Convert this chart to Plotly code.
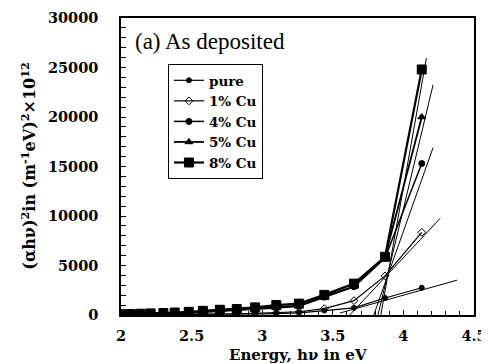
import plotly.graph_objects as go

# Photon energy (eV) of the measured points
energy = [2.00, 2.07, 2.14, 2.21, 2.30, 2.38, 2.48, 2.58, 2.70, 2.82,
          2.95, 3.10, 3.26, 3.44, 3.65, 3.87, 4.13]

# (alpha h nu)^2 values, x10^12 (m^-1 eV)^2
pure = [10, 12, 15, 20, 25, 30, 40, 50, 60, 80, 100, 140, 220, 450, 720, 1720, 2750]
cu1 = [15, 20, 25, 30, 35, 45, 55, 75, 95, 125, 165, 230, 330, 640, 1450, 3950, 8350]
cu4 = [50, 60, 80, 100, 130, 160, 210, 280, 360, 450, 560, 700, 880, 1800, 2850, 5750, 15300]
cu5 = [60, 80, 100, 120, 150, 190, 250, 330, 430, 520, 650, 800, 950, 1850, 2900, 5850, 20000]
cu8 = [80, 100, 130, 160, 200, 250, 320, 420, 530, 600, 770, 1000, 1150, 2030, 3170, 5880, 24800]

# Linear extrapolation (Tauc) lines: end points
fit_pure_x = [3.55, 4.38]
fit_pure_y = [200, 3520]
fit_cu1_x = [3.62, 4.26]
fit_cu1_y = [0, 9760]
fit_cu4_x = [3.79, 4.21]
fit_cu4_y = [0, 16900]
fit_cu5_x = [3.82, 4.21]
fit_cu5_y = [0, 23240]
fit_cu8_x = [3.84, 4.163]
fit_cu8_y = [0, 25950]

names = ["pure", "1% Cu", "4% Cu", "5% Cu", "8% Cu"]
series = [pure, cu1, cu4, cu5, cu8]
symbols = ["circle", "diamond-open", "circle", "triangle-up", "square"]
msizes = [5, 6, 6, 7, 9]
lwidths = [1.2, 1.2, 1.5, 1.8, 2.2]

fig = go.Figure()

fits = [(fit_pure_x, fit_pure_y), (fit_cu1_x, fit_cu1_y), (fit_cu4_x, fit_cu4_y),
        (fit_cu5_x, fit_cu5_y), (fit_cu8_x, fit_cu8_y)]
for fx, fy in fits:
    fig.add_trace(go.Scatter(x=fx, y=fy, mode="lines", showlegend=False,
                             line=dict(color="black", width=1), hoverinfo="skip"))

for n, s, sym, ms, lw in zip(names, series, symbols, msizes, lwidths):
    fig.add_trace(go.Scatter(
        x=energy, y=s, mode="lines+markers", name=n,
        line=dict(color="black", width=lw),
        marker=dict(symbol=sym, size=ms, color="black",
                    line=dict(color="black", width=1)),
    ))

serif = "Liberation Serif, Times New Roman, serif"
bold_serif = "DejaVu Serif, serif"

# page body has an 8px margin, so the figure is 8px smaller and offset
fig.update_layout(
    width=481, height=356,
    margin=dict(l=113, r=15, t=10, b=48.5, autoexpand=False),
    paper_bgcolor="white", plot_bgcolor="white",
    font=dict(family=serif, color="black"),
    legend=dict(
        x=0.133, y=0.845, xanchor="left", yanchor="top",
        bgcolor="white", bordercolor="black", borderwidth=1,
        font=dict(family=bold_serif, size=13.5, color="black", weight="bold"),
        tracegroupgap=0, itemwidth=30,
    ),
    showlegend=True,
)

fig.update_xaxes(
    range=[2, 4.5], dtick=0.5, tick0=2, automargin=False,
    ticks="inside", ticklen=5, tickwidth=1, tickcolor="black",
    minor=dict(dtick=0.1, ticks="inside", ticklen=4, tickcolor="black"),
    showline=True, linecolor="black", linewidth=1.5, mirror=True,
    showgrid=False, zeroline=False,
    tickfont=dict(family=bold_serif, size=14.5, color="black", weight="bold"),
    ticklabelstandoff=7,
)
fig.update_yaxes(
    range=[0, 30000], dtick=5000, tick0=0, tickformat="d", automargin=False,
    ticks="inside", ticklen=5, tickwidth=1, tickcolor="black",
    minor=dict(dtick=1000, ticks="inside", ticklen=5, tickcolor="black"),
    showline=True, linecolor="black", linewidth=1.5, mirror=True,
    showgrid=False, zeroline=False,
    tickfont=dict(family=bold_serif, size=14.5, color="black", weight="bold"),
    ticklabelstandoff=18,
)

fig.add_annotation(
    text="(a) As deposited", xref="paper", yref="paper",
    x=0.035, y=0.92, xanchor="left", yanchor="middle", showarrow=False,
    font=dict(family=serif, size=23, color="black"),
)
fig.add_annotation(
    text="(αhν)<sup>2</sup>in (m<sup>-1</sup>eV)<sup>2</sup>×10<sup>12</sup>",
    xref="paper", yref="paper", x=-0.263, y=0.5, textangle=-90,
    xanchor="center", yanchor="middle", showarrow=False,
    font=dict(family=bold_serif, size=16, color="black", weight="bold"),
)
fig.add_annotation(
    text="Energy, hν in eV", xref="paper", yref="paper",
    x=0.5, y=-0.134, xanchor="center", yanchor="middle", showarrow=False,
    font=dict(family=bold_serif, size=15, color="black", weight="bold"),
)

fig.write_html("out.html")
